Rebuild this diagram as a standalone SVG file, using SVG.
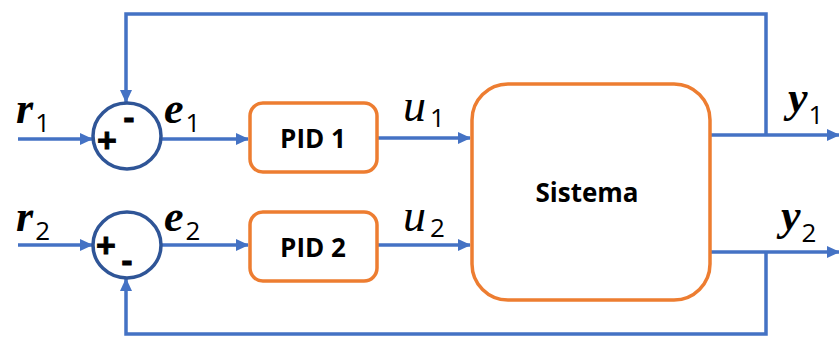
<svg xmlns="http://www.w3.org/2000/svg" width="839" height="363" viewBox="0 0 839 363">
  <defs>
    <marker id="arrow" markerUnits="userSpaceOnUse" markerWidth="14" markerHeight="14" refX="12" refY="7" orient="auto">
      <path d="M0,1 L13,7 L0,13 Z" fill="#4472C4"/>
    </marker>
    <style>
      .wire { fill: none; stroke: #4472C4; stroke-width: 3.5; }
      .sum { fill: #fff; stroke: #2F5597; stroke-width: 3.5; }
      .block { fill: #fff; stroke: #ED7D31; stroke-width: 3.5; }
      .blabel { font-family: "Open Sans", "Liberation Sans", sans-serif; font-weight: bold; font-size: 26px; fill: #000; text-anchor: middle; }
      .sign { font-family: "Liberation Sans", sans-serif; font-weight: bold; font-size: 34px; fill: #000; stroke: #000; stroke-width: 0.8; text-anchor: middle; }
      .var { font-family: "Liberation Serif", serif; font-style: italic; font-weight: bold; font-size: 44px; fill: #000; }
      .varu { font-family: "Liberation Serif", serif; font-style: italic; font-size: 46px; fill: #000; }
      .sub { font-family: "Open Sans", "Liberation Sans", sans-serif; font-size: 26px; fill: #000; }
    </style>
  </defs>

  <g id="connectors">
    <!-- reference inputs -->
    <line class="wire" x1="18" y1="139" x2="92" y2="139" marker-end="url(#arrow)"/>
    <line class="wire" x1="18" y1="245" x2="92" y2="245" marker-end="url(#arrow)"/>
    <!-- errors into controllers -->
    <line class="wire" x1="161" y1="139" x2="248" y2="139" marker-end="url(#arrow)"/>
    <line class="wire" x1="161" y1="245" x2="248" y2="245" marker-end="url(#arrow)"/>
    <!-- control signals into plant -->
    <line class="wire" x1="378" y1="138" x2="470" y2="138" marker-end="url(#arrow)"/>
    <line class="wire" x1="378" y1="245" x2="470" y2="245" marker-end="url(#arrow)"/>
    <!-- plant outputs -->
    <line class="wire" x1="710" y1="135" x2="839" y2="135" marker-end="url(#arrow)"/>
    <line class="wire" x1="710" y1="252" x2="839" y2="252" marker-end="url(#arrow)"/>
    <!-- feedback loops -->
    <polyline class="wire" points="766,135 766,14 126,14 126,102" marker-end="url(#arrow)"/>
    <polyline class="wire" points="766,252 766,334 126,334 126,279" marker-end="url(#arrow)"/>
  </g>

  <g id="sum1">
    <ellipse class="sum" cx="127" cy="136" rx="34" ry="33"/>
    <text class="sign" x="107" y="152">+</text>
    <text class="sign" x="129" y="129">-</text>
  </g>

  <g id="sum2">
    <ellipse class="sum" cx="127" cy="245" rx="34" ry="33"/>
    <text class="sign" x="106" y="257">+</text>
    <text class="sign" x="127" y="272">-</text>
  </g>

  <g id="pid1">
    <rect class="block" x="250" y="103" width="127" height="69" rx="13"/>
    <text class="blabel" x="313" y="148">PID 1</text>
  </g>

  <g id="pid2">
    <rect class="block" x="250" y="212" width="127" height="69" rx="13"/>
    <text class="blabel" x="313" y="257">PID 2</text>
  </g>

  <g id="sistema">
    <rect class="block" x="472" y="84" width="238" height="216" rx="36"/>
    <text class="blabel" x="587" y="202">Sistema</text>
  </g>

  <g id="labels">
    <text x="16" y="123"><tspan class="var">r</tspan><tspan class="sub" dx="2" dy="9">1</tspan></text>
    <text x="16" y="231"><tspan class="var">r</tspan><tspan class="sub" dx="2" dy="9">2</tspan></text>
    <text x="164" y="123"><tspan class="var">e</tspan><tspan class="sub" dx="2" dy="9">1</tspan></text>
    <text x="164" y="231"><tspan class="var">e</tspan><tspan class="sub" dx="2" dy="9">2</tspan></text>
    <text x="403" y="121"><tspan class="varu">u</tspan><tspan class="sub" dx="4" dy="6">1</tspan></text>
    <text x="403" y="231"><tspan class="varu">u</tspan><tspan class="sub" dx="4" dy="6">2</tspan></text>
    <text x="788" y="112"><tspan class="var">y</tspan><tspan class="sub" dx="1" dy="12">1</tspan></text>
    <text x="781" y="230"><tspan class="var">y</tspan><tspan class="sub" dx="1" dy="12">2</tspan></text>
  </g>
</svg>
